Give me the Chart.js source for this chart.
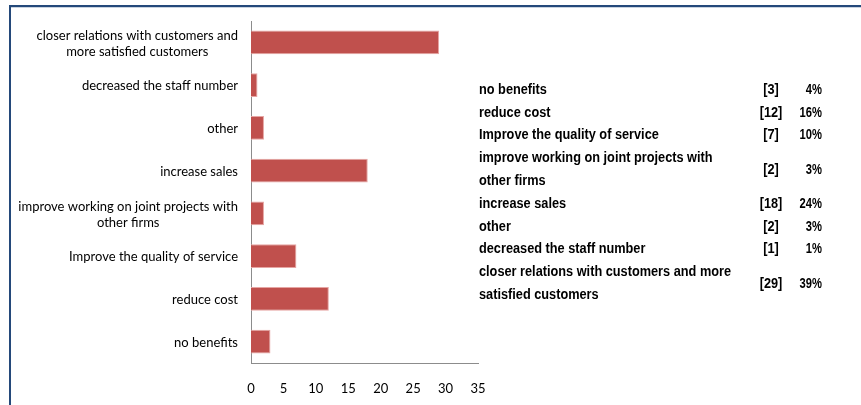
<!DOCTYPE html>
<html>
<head>
<meta charset="utf-8">
<script src="https://cdn.jsdelivr.net/npm/chart.js@4"></script>
<style>
  html, body { margin: 0; padding: 0; background: #fff; }
  #wrap { position: relative; width: 861px; height: 405px; }
</style>
</head>
<body>
<div id="wrap"><canvas id="benefits-chart" width="861" height="405"></canvas></div>
<script>
// benefits listed bottom-to-top (same order as the table on the right)
const categories = [
    'no benefits',
    'reduce cost',
    'Improve the quality of service',
    ['improve working on joint projects with', 'other firms'],
    'increase sales',
    'other',
    'decreased the staff number',
    ['closer relations with customers and', 'more satisfied customers']
];
const tableLabels = [
    ['no benefits'],
    ['reduce cost'],
    ['Improve the quality of service'],
    ['improve working on joint projects with', 'other firms'],
    ['increase sales'],
    ['other'],
    ['decreased the staff number'],
    ['closer relations with customers and more', 'satisfied customers']
];
const counts = [3, 12, 7, 2, 18, 2, 1, 29];
const percents = ['4%', '16%', '10%', '3%', '24%', '3%', '1%', '39%'];
const xTicks = [0, 5, 10, 15, 20, 25, 30, 35];

const labelFont = '13px Lato, "Open Sans", sans-serif';

// frame, centred multi-line category labels and the count table
const frameAndTable = {
    id: 'frameAndTable',
    beforeDraw(chart) {
        const ctx = chart.ctx;
        ctx.save();
        ctx.fillStyle = '#24497a';
        ctx.fillRect(9, 5, 852, 2);
        ctx.fillRect(9, 5, 2, 400);
        ctx.fillStyle = '#c9d3e0';
        ctx.fillRect(11, 7, 850, 1);
        ctx.restore();
    },
    afterDraw(chart) {
        const ctx = chart.ctx;
        const yScale = chart.scales.y;

        ctx.save();
        ctx.fillStyle = '#000';
        ctx.font = labelFont;
        ctx.textBaseline = 'middle';
        ctx.textAlign = 'center';
        categories.forEach((label, i) => {
            const lines = Array.isArray(label) ? label : [label];
            const w = Math.max(...lines.map(l => ctx.measureText(l).width));
            const cx = 238 - w / 2;
            const py = yScale.getPixelForTick(i) + 1;
            const lh = 16;
            lines.forEach((line, j) => {
                ctx.fillText(line, cx, py + (j - (lines.length - 1) / 2) * lh);
            });
        });
        ctx.restore();

        const squeeze = 0.91;
        const lineH = 22.8;
        ctx.save();
        ctx.fillStyle = '#000';
        ctx.font = 'bold 14px "Liberation Sans", Arial, sans-serif';
        ctx.textBaseline = 'middle';
        let y = 90;
        tableLabels.forEach((lines, i) => {
            lines.forEach((line, j) => {
                ctx.save();
                ctx.translate(479, y + j * lineH);
                ctx.scale(squeeze, 1);
                ctx.textAlign = 'left';
                ctx.fillText(line, 0, 0);
                ctx.restore();
            });
            const mid = y + (lines.length - 1) * lineH / 2;
            ctx.save();
            ctx.translate(771, mid);
            ctx.scale(squeeze, 1);
            ctx.textAlign = 'center';
            ctx.fillText('[' + counts[i] + ']', 0, 0);
            ctx.restore();
            ctx.save();
            ctx.translate(822, mid);
            ctx.scale(0.8, 1);
            ctx.textAlign = 'right';
            ctx.fillText(percents[i], 0, 0);
            ctx.restore();
            y += lines.length * lineH;
        });
        ctx.restore();
    }
};

new Chart(document.getElementById('benefits-chart'), {
    type: 'bar',
    data: {
        labels: categories,
        datasets: [{
            data: counts,
            backgroundColor: '#c0504d',
            borderColor: '#e6a5a3',
            borderWidth: 1,
            borderSkipped: 'start',
            categoryPercentage: 0.56,
            barPercentage: 1
        }]
    },
    options: {
        indexAxis: 'y',
        responsive: false,
        animation: false,
        layout: { padding: { top: 21, right: 383, left: 0, bottom: 0 } },
        plugins: { legend: { display: false }, tooltip: { enabled: false } },
        scales: {
            x: {
                min: 0,
                max: 35,
                afterBuildTicks: axis => { axis.ticks = xTicks.map(v => ({ value: v })); },
                afterFit: axis => { axis.height = 42; },
                grid: { display: false, drawTicks: false },
                border: { display: true, color: '#8c8c8c', width: 1 },
                ticks: {
                    padding: 18,
                    color: '#000',
                    font: { family: 'Lato, "Open Sans", sans-serif', size: 13 }
                }
            },
            y: {
                reverse: true,
                afterFit: axis => { axis.width = 251; },
                grid: { display: false, drawTicks: false },
                border: { display: true, color: '#8c8c8c', width: 1 },
                ticks: { display: false }
            }
        }
    },
    plugins: [frameAndTable]
});
</script>
</body>
</html>
